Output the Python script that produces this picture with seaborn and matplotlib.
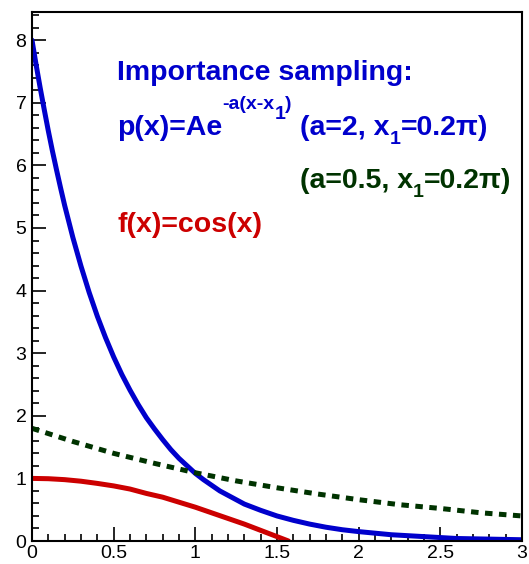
import numpy as np
import pandas as pd
import matplotlib
matplotlib.use("Agg")
import matplotlib.pyplot as plt
import seaborn as sns

# ---- data ----
x_blue = [0.0, 0.025, 0.05, 0.075, 0.1, 0.125, 0.15, 0.175, 0.2, 0.25, 0.3, 0.35, 0.4, 0.45, 0.5,
          0.55, 0.6, 0.65, 0.7, 0.75, 0.8, 0.85, 0.9, 0.95, 1.0, 1.05, 1.1, 1.15, 1.2, 1.3, 1.4,
          1.5, 1.6, 1.7, 1.8, 1.9, 2.0, 2.2, 2.4, 2.6, 2.8, 3.0]
y_blue = [8.0, 7.61, 7.24, 6.89, 6.55, 6.23, 5.93, 5.64, 5.36, 4.85, 4.39, 3.97, 3.59, 3.25, 2.94,
          2.66, 2.41, 2.18, 1.97, 1.79, 1.62, 1.46, 1.32, 1.20, 1.08, 0.98, 0.89, 0.80, 0.73,
          0.59, 0.49, 0.40, 0.33, 0.27, 0.22, 0.18, 0.15, 0.10, 0.07, 0.04, 0.03, 0.02]

x_green = [0.0, 0.25, 0.5, 0.75, 1.0, 1.25, 1.5, 1.75, 2.0, 2.25, 2.5, 2.75, 3.0]
y_green = [1.80, 1.59, 1.40, 1.24, 1.09, 0.96, 0.85, 0.75, 0.66, 0.58, 0.52, 0.45, 0.40]

x_red = [0.0, 0.1, 0.2, 0.3, 0.4, 0.5, 0.6, 0.7, 0.8, 0.9, 1.0, 1.1, 1.2, 1.3, 1.4, 1.5, 1.57]
y_red = [1.0, 0.995, 0.98, 0.955, 0.92, 0.88, 0.83, 0.76, 0.70, 0.62, 0.54, 0.45, 0.36, 0.27,
         0.17, 0.07, 0.0]

x_ticks = [0, 0.5, 1, 1.5, 2, 2.5, 3]
x_ticklabels = ["0", "0.5", "1", "1.5", "2", "2.5", "3"]
y_ticks = [0, 1, 2, 3, 4, 5, 6, 7, 8]
y_ticklabels = ["0", "1", "2", "3", "4", "5", "6", "7", "8"]

BLUE = "#0000cc"
GREEN = "#003300"
RED = "#cc0000"

sns.set_style("white")
plt.rcParams["font.family"] = ["Liberation Sans", "DejaVu Sans"]
plt.rcParams["xtick.bottom"] = True
plt.rcParams["ytick.left"] = True

df = pd.concat([
    pd.DataFrame({"x": x_blue, "y": y_blue, "curve": "p2"}),
    pd.DataFrame({"x": x_green, "y": y_green, "curve": "p05"}),
    pd.DataFrame({"x": x_red, "y": y_red, "curve": "cos"}),
], ignore_index=True)

fig = plt.figure(figsize=(5.29, 5.64), dpi=100)
ax = fig.add_axes([32 / 529, 1 - 541 / 564, (522 - 32) / 529, (541 - 12) / 564])

sns.lineplot(data=df, x="x", y="y", hue="curve", style="curve",
             palette={"p2": BLUE, "p05": GREEN, "cos": RED},
             dashes={"p2": "", "p05": (1.5, 1.3), "cos": ""},
             linewidth=3.6, sort=False, estimator=None, legend=False, ax=ax)

ax.set_xlim(0, 3)
ax.set_ylim(0, 8.45)
ax.set_xlabel("")
ax.set_ylabel("")
ax.set_xticks(x_ticks)
ax.set_xticklabels(x_ticklabels)
ax.set_yticks(y_ticks)
ax.set_yticklabels(y_ticklabels)
ax.set_xticks(np.arange(0, 3.001, 0.1), minor=True)
ax.set_yticks(np.arange(0, 8.45, 0.2), minor=True)
ax.tick_params(which="major", direction="in", length=10, width=1.2, labelsize=14,
               bottom=True, left=True, top=False, right=False, color="black",
               labelcolor="black")
ax.tick_params(which="minor", direction="in", length=5, width=1.2,
               bottom=True, left=True, top=False, right=False, color="black")
ax.tick_params(axis="y", pad=4)
ax.tick_params(axis="x", pad=3)
for s in ax.spines.values():
    s.set_linewidth(1.5)
    s.set_color("black")

fig.canvas.draw()
renderer = fig.canvas.get_renderer()


def chain(pieces, x0, y0, color):
    """pieces: list of (text, fontsize, dy_px). Drawn left to right starting at pixel x0,
    baseline at pixel y0 (measured from top)."""
    xcur = x0
    for txt, fs, dy in pieces:
        t = fig.text(xcur / 529, 1 - (y0 + dy) / 564, txt, fontsize=fs, fontweight="bold",
                     color=color, ha="left", va="baseline")
        bb = t.get_window_extent(renderer)
        xcur += bb.width


BIG = 20.5
SMALL = 14
chain([("Importance sampling:", BIG, 0)], 117, 80, BLUE)
chain([("p(x)=Ae", BIG, 0), ("-a(x-x", SMALL, -26), ("1", SMALL, -16), (")", SMALL, -26)],
      117, 135, BLUE)
chain([("(a=2, x", BIG, 0), ("1", SMALL, 9), ("=0.2\u03c0)", BIG, 0)], 300, 135, BLUE)
chain([("(a=0.5, x", BIG, 0), ("1", SMALL, 9), ("=0.2\u03c0)", BIG, 0)], 300, 188, GREEN)
chain([("f(x)=cos(x)", BIG, 0)], 117, 232, RED)

fig.savefig("out.png", dpi=100)
